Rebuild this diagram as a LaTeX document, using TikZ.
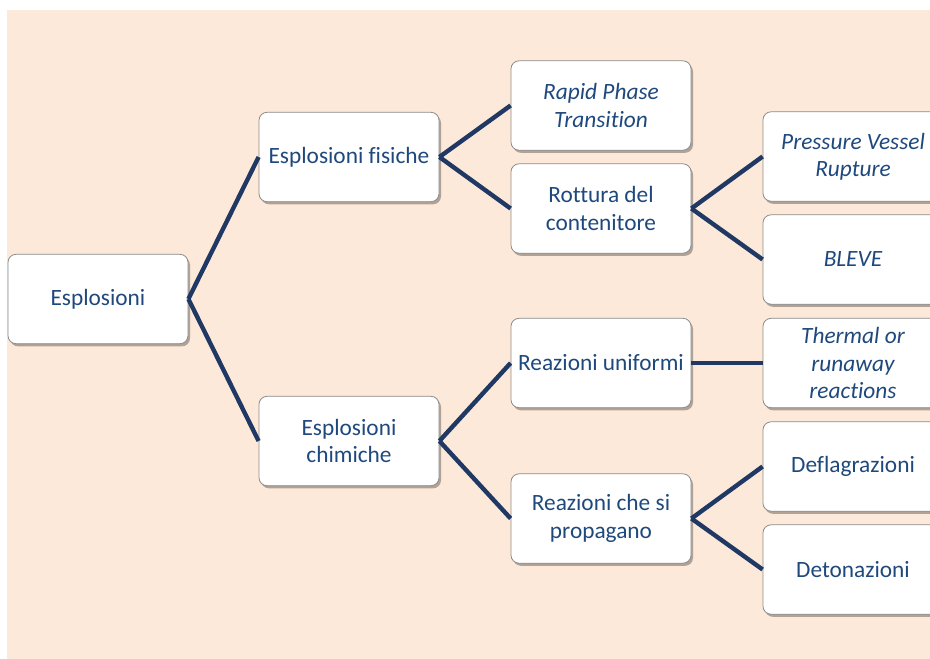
\documentclass[tikz,border=0pt]{standalone}
\usepackage{fontspec}
\setmainfont[Ligatures=NoCommon]{Carlito}
\usetikzlibrary{shadows}
\definecolor{pageBg}{HTML}{FDE9D9}
\definecolor{txtBlue}{HTML}{1F497D}
\definecolor{linkEdge}{HTML}{1F3864}
\definecolor{boxEdge}{HTML}{8C8C8C}
\newcommand{\FigBody}{\fontsize{17.5}{20.5}\selectfont}
\begin{document}
\begin{tikzpicture}[
  x=0.75pt, y=-0.75pt,
  font=\FigBody,
  box/.style  = {draw=boxEdge, fill=white, rounded corners=6pt, line width=0.6pt,
                 minimum width=135pt, minimum height=67pt, inner sep=2pt,
                 align=center, text=txtBlue,
                 drop shadow={shadow xshift=1.5pt, shadow yshift=-2pt, fill=black, opacity=0.3}},
  ital/.style = {box, font=\FigBody\itshape},
  link/.style = {draw=linkEdge, line width=3.3pt},
]
\useasboundingbox (0,0) rectangle (930,659);
\clip (0,0) rectangle (930,659);
\fill[pageBg] (7,10) rectangle (930,659);

% ---------------------------------------------------------------- level 0 and 1
\node[box] (root) at (98,299)  {Esplosioni};
\node[box] (fis)  at (349,157) {Esplosioni fisiche};
\node[box] (chim) at (349,441) {Esplosioni\\chimiche};

% ---------------------------------------------------------------- level 2
\node[ital] (rpt)  at (601,105.5) {Rapid Phase\\Transition};
\node[box]  (rott) at (601,208.5) {Rottura del\\contenitore};
\node[box]  (unif) at (601,363)   {Reazioni uniformi};
\node[box]  (prop) at (601,518.5) {Reazioni che si\\propagano};

% ---------------------------------------------------------------- level 3
\node[ital] (pvr)   at (853,156.5) {Pressure Vessel\\Rupture};
\node[ital] (bleve) at (853,259.5) {BLEVE};
\node[ital] (therm) at (853,363)   {Thermal or\\runaway\\reactions};
\node[box]  (defl)  at (853,466.5) {Deflagrazioni};
\node[box]  (deton) at (853,569.5) {Detonazioni};

% ---------------------------------------------------------------- links
\foreach \a/\b in {root/fis, root/chim, fis/rpt, fis/rott, chim/unif, chim/prop,
                   rott/pvr, rott/bleve, unif/therm, prop/defl, prop/deton} {
  \draw[link] (\a.east) -- (\b.west);
}
\end{tikzpicture}
\end{document}
